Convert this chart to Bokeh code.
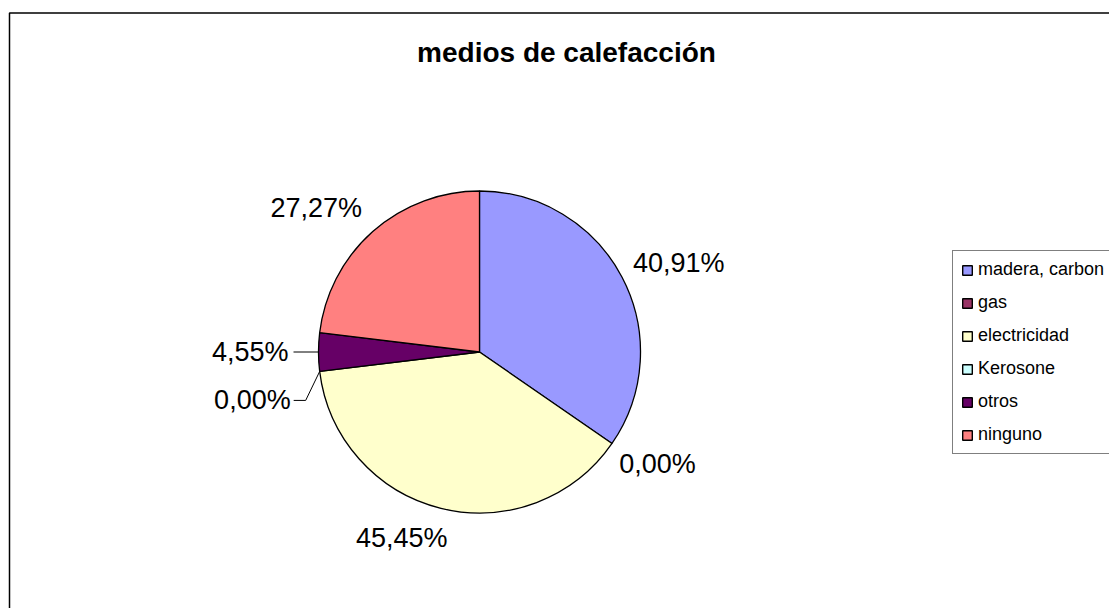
import math
from bokeh.plotting import figure
from bokeh.models import ColumnDataSource, Range1d, Legend, LegendItem, Label
from bokeh.core.properties import value
from bokeh.embed import file_html
from bokeh.resources import INLINE

# ---------------- data ----------------
title_text = "medios de calefacción"
categories = ["madera, carbon", "gas", "electricidad", "Kerosone", "otros", "ninguno"]
counts = [9, 0, 10, 0, 1, 6]
pct_labels = ["40,91%", "0,00%", "45,45%", "0,00%", "4,55%", "27,27%"]
colors = ["#9999FF", "#993366", "#FFFFCC", "#CCFFFF", "#660066", "#FF8080"]

# ---------------- layout ----------------
W, H = 1109, 608


def Y(py):
    """page y (down) -> data y (up)"""
    return H - py


CX, CY = 479, Y(351.5)
R = 161
GAP = 10
FONT = "Liberation Sans"

p = figure(width=W, height=H, output_backend="svg", toolbar_location=None,
           x_range=Range1d(0, W), y_range=Range1d(0, H),
           x_axis_type=None, y_axis_type=None, min_border=0)
p.min_border_left = p.min_border_right = p.min_border_top = p.min_border_bottom = 0
p.grid.visible = False
p.outline_line_color = None
p.background_fill_color = "white"
p.border_fill_color = "white"

# chart-area frame (left and top edges; the rest runs off the page)
p.line(x=[9, 9, W + 10], y=[Y(H + 10), Y(12.5), Y(12.5)], line_color="black", line_width=1.5)

# ---------------- wedges ----------------
total = sum(counts)
starts, ends, mids = [], [], []
cum = 0
for c in counts:
    a0 = math.pi / 2 - 2 * math.pi * cum / total
    cum += c
    a1 = math.pi / 2 - 2 * math.pi * cum / total
    starts.append(a0)
    ends.append(a1)
    mids.append((a0 + a1) / 2)

nz = [i for i, c in enumerate(counts) if c > 0]
wsrc = ColumnDataSource(dict(start=[starts[i] for i in nz], end=[ends[i] for i in nz],
                             color=[colors[i] for i in nz]))
p.wedge(x=CX, y=CY, radius=R, start_angle="start", end_angle="end",
        direction="clock", fill_color="color", line_color="black",
        line_width=1.3, source=wsrc)

# legend proxy (nothing drawn on the plot, only supplies legend swatches)
nan = float("nan")
n = len(categories)
psrc = ColumnDataSource(dict(l=[nan] * n, r=[nan] * n, t=[nan] * n, b=[nan] * n,
                             color=colors, cat=categories))
proxy = p.quad(left="l", right="r", top="t", bottom="b", fill_color="color",
               line_color="black", line_width=1.4, source=psrc)

# ---------------- data labels ----------------
leader_idx = {3, 4}
nudge_x = [2, -1, 9, 0, 0, -4]
nudge_y = [0, 0, 5, 0, 0, -6]   # page pixels, down positive
CAP_MID = 9.7                   # baseline -> cap centre at 27px

lx, ly, ltxt, lalign, lbase = [], [], [], [], []
leader_xs, leader_ys = [], []
for i, m in enumerate(mids):
    cs, sn = math.cos(m), math.sin(m)
    if i in leader_idx:
        ex, ey = CX + R * cs, CY + R * sn
        if i == 4:
            pts = [(ex, ey), (ex - 25, ey)]
        else:
            elx, ely = ex - 14, ey - 29
            pts = [(ex, ey), (elx, ely), (elx - 12, ely)]
        leader_xs.append([q[0] for q in pts])
        leader_ys.append([q[1] for q in pts])
        endx, endy = pts[-1]
        lx.append(endx - (5 if i == 4 else 3))
        ly.append(endy)
        lalign.append("right")
        lbase.append("middle")
    else:
        ax = CX + (R + GAP) * cs + nudge_x[i]
        ay = CY + (R + GAP) * sn - nudge_y[i]
        if sn > 0:
            ay += CAP_MID
            lbase.append("middle")
        else:
            lbase.append("top")
        lx.append(ax)
        ly.append(ay)
        lalign.append("left" if cs > 0 else "right")
    ltxt.append(pct_labels[i])

p.multi_line(xs=leader_xs, ys=leader_ys, line_color="black", line_width=1)
lsrc = ColumnDataSource(dict(x=lx, y=ly, t=ltxt, al=lalign, bl=lbase))
p.text(x="x", y="y", text="t", text_align="al", text_baseline="bl",
       text_font=value(FONT), text_font_size="27px", text_color="black", source=lsrc)

# ---------------- title ----------------
p.add_layout(Label(x=566, y=Y(51.5), text=title_text, text_align="center",
                   text_baseline="middle", text_font=FONT,
                   text_font_size="28px", text_font_style="bold", text_color="black"))

# ---------------- legend ----------------
items = [LegendItem(label=categories[i], renderers=[proxy], index=i) for i in range(n)]
legend = Legend(items=items, location=(952, 154), margin=0, padding=8,
                spacing=12, label_height=20, glyph_width=12, glyph_height=12,
                label_standoff=5, label_text_font=FONT, label_text_font_size="18px",
                label_text_color="black", border_line_color="black",
                border_line_width=1, background_fill_color="white",
                background_fill_alpha=1)
p.add_layout(legend)

open("out.html", "w").write(file_html(p, INLINE))
